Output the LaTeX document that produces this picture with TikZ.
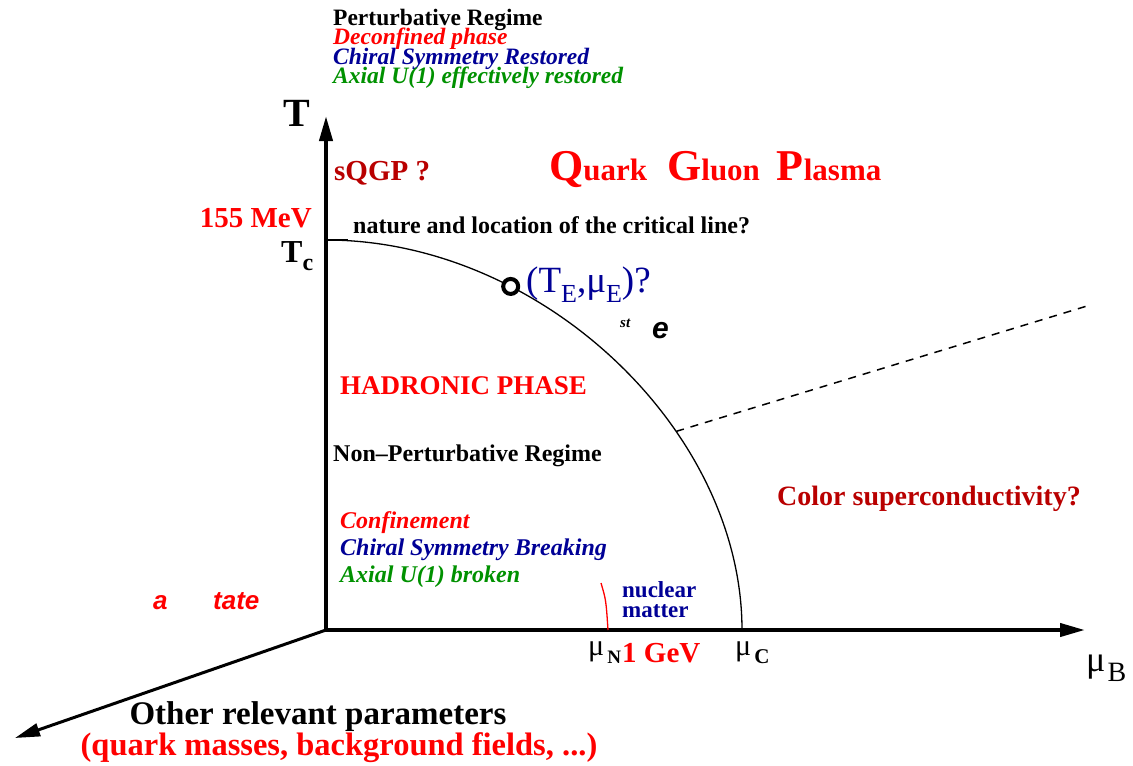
\documentclass[tikz,border=0pt]{standalone}
\usepackage{fontspec}
\setmainfont{Liberation Serif}
\newfontfamily\hvfont{Liberation Sans}
\usetikzlibrary{arrows.meta}
\definecolor{bred}{RGB}{255,0,0}
\definecolor{dred}{RGB}{185,0,0}
\definecolor{navy}{RGB}{0,0,150}
\definecolor{mgreen}{RGB}{0,145,0}
\newcommand\fs[1]{\fontsize{#1}{#1}\selectfont}
\newcommand\lowsub[2]{\raisebox{-0.28em}{\fs{#1}#2}}
\begin{document}
\begin{tikzpicture}[x=1pt,y=-1pt,
  lbl/.style={inner sep=0pt, anchor=base west, font=\bfseries},
  clbl/.style={inner sep=0pt, anchor=base, font=\bfseries},
  axisline/.style={line width=4pt},
  diagline/.style={line width=3pt},
  critline/.style={line width=1.3pt},
  dashline/.style={line width=1.5pt, dash pattern=on 8pt off 7pt},
  bighead/.style={-{Triangle[length=25pt,width=13pt]}}]
\useasboundingbox (0,0) rectangle (1133,766);

% axes
\coordinate (O) at (326,630);
\coordinate (Ttip) at (326,116);
\coordinate (Btip) at (1085,630);
\coordinate (Dtip) at (15,738);
\draw[axisline, {Triangle[length=25pt,width=13pt]}-{Triangle[length=25pt,width=13pt]}] (Ttip) -- (O) -- (Btip);
\draw[diagline, bighead] (O) -- (Dtip);

% Tc tick
\coordinate (tc) at (326,240);
\coordinate (tce) at (348,240);
\draw[line width=2.5pt] (tc) -- (tce);

% critical line
\coordinate (muc) at (742,630);
\draw[critline] (tc) .. controls (541,240) and (742,430) .. (muc)
  coordinate[pos=0.3] (cp) coordinate[pos=0.65] (dj);
\coordinate (dend) at (1087,306);
\draw[dashline] (dj) -- (dend);
\node[circle, draw, line width=4pt, fill=white, minimum size=15pt, inner sep=0pt] (cpn) at (cp) {};

% nuclear matter line
\coordinate (nma) at (601,583);
\coordinate (nmb) at (608,630);
\draw[bred, line width=1.3pt] (nma) .. controls (606,600) .. (nmb);

% top texts
\node[lbl, font=\fs{23.5}\bfseries] (pr) at (333,25) {Perturbative Regime};
\node[lbl, bred, font=\fs{23.5}\bfseries\itshape] (dp) at (333,44.5) {Deconfined phase};
\node[lbl, navy, font=\fs{23.5}\bfseries\itshape] (csr) at (333,64) {Chiral Symmetry Restored};
\node[lbl, mgreen, font=\fs{23.5}\bfseries\itshape] (aur) at (333,83.5) {Axial U(1) effectively restored};

% axis labels
\node[clbl, font=\fs{40}\bfseries] (Tlab) at (297,126) {T};
\node[lbl, font=\fs{32}\bfseries] (Tclab) at (281,262) {T\lowsub{24}{c}};
\node[lbl, bred, anchor=base east, font=\fs{29}\bfseries] (mev) at (312,227) {155 MeV};
\node[lbl, dred, font=\fs{29}\bfseries] (sqgp) at (334,180) {sQGP ?};
\node[lbl, bred, font=\fs{31}\bfseries] (qgp) at (549,180)
  {\fs{44}Q\fs{31}uark\hspace{20pt}\fs{44}G\fs{31}luon\hspace{17pt}\fs{44}P\fs{31}lasma};
\node[lbl, font=\fs{24}\bfseries] (nat) at (353,233) {nature and location of the critical line?};
\node[lbl, navy, font=\fs{37}] (ce) at (526,292) {(T\lowsub{26}{E},μ\lowsub{26}{E})?};
\node[lbl, font=\fs{15}\bfseries\itshape] (st) at (620,327) {st};
\node[lbl, font=\fs{30}\hvfont\bfseries\itshape] (ee) at (652,338) {e};

\node[lbl, bred, font=\fs{27}\bfseries] (had) at (340,394) {HADRONIC PHASE};
\node[lbl, font=\fs{24}\bfseries] (npr) at (333,461) {Non\textendash Perturbative Regime};
\node[lbl, bred, font=\fs{24}\bfseries\itshape] (conf) at (340,528) {Confinement};
\node[lbl, navy, font=\fs{24}\bfseries\itshape] (csb) at (340,555) {Chiral Symmetry Breaking};
\node[lbl, mgreen, font=\fs{24}\bfseries\itshape] (aub) at (340,582) {Axial U(1) broken};

\node[lbl, bred, font=\fs{26}\hvfont\bfseries\itshape] (sa) at (153,609) {a};
\node[lbl, bred, font=\fs{26}\hvfont\bfseries\itshape] (stt) at (213,609) {tate};

\node[lbl, navy, font=\fs{23}\bfseries] (nuc) at (622,597) {nuclear};
\node[lbl, navy, font=\fs{23}\bfseries] (mat) at (622,617) {matter};

\node[lbl, font=\fs{30}] (muN) at (588,655) {μ\hspace{3pt}\lowsub{19}{\bfseries N}};
\node[lbl, bred, font=\fs{29}\bfseries] (gev) at (622,662) {1 GeV};
\node[lbl, font=\fs{30}] (muC) at (735,655) {μ\hspace{3pt}\lowsub{21}{\bfseries C}};
\node[lbl, font=\fs{36}] (muB) at (1086,671) {μ\hspace{2pt}\lowsub{28}{B}};

\node[lbl, dred, font=\fs{28}\bfseries] (csc) at (777,505) {Color superconductivity?};

\node[clbl, font=\fs{33}\bfseries] (orp) at (318,724) {Other relevant parameters};
\node[clbl, bred, font=\fs{32.5}\bfseries] (qm) at (339,755) {(quark masses, background fields, ...)};
\end{tikzpicture}
\end{document}
